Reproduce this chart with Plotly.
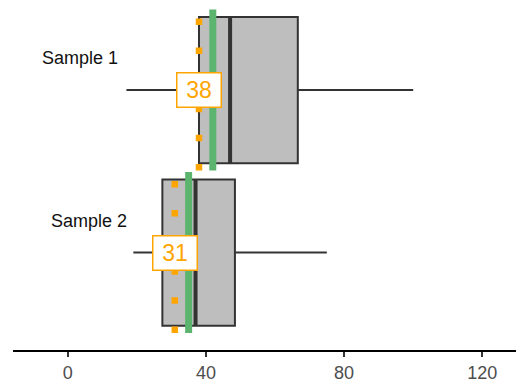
import plotly.graph_objects as go

# ---- data ----
samples = ["Sample 1", "Sample 2"]
positions = [1, 0]
lower_whisker = [17, 19]
q1 = [38, 27.4]
median = [47, 37]
q3 = [66.6, 48.4]
upper_whisker = [100, 75]
mean_vals = [42, 35]          # green line
ref_vals = [38, 31]           # orange dotted line + label
tick_vals = [0, 40, 80, 120]

FONT = "Liberation Sans, Arial, sans-serif"
ORANGE = "#FFA500"
GREEN = "#5CB46E"
DARK = "#333333"

fig = go.Figure()

fig.add_trace(go.Box(
    y=positions, q1=q1, median=median, q3=q3,
    lowerfence=lower_whisker, upperfence=upper_whisker,
    orientation="h", width=0.9, whiskerwidth=0,
    fillcolor="#BEBEBE", line=dict(color=DARK, width=2),
    boxpoints=False, hoverinfo="skip", showlegend=False,
))

half_box = 0.45
half_line = 0.495
for p, m, r, g in zip(positions, median, ref_vals, mean_vals):
    fig.add_trace(go.Scatter(
        x=[m, m], y=[p - half_box, p + half_box], mode="lines",
        line=dict(color=DARK, width=4), hoverinfo="skip", showlegend=False))
    fig.add_trace(go.Scatter(
        x=[r, r], y=[p - half_line, p + half_line], mode="lines",
        line=dict(color=ORANGE, width=6.5, dash="6.5px,22.6px"),
        hoverinfo="skip", showlegend=False))
    fig.add_trace(go.Scatter(
        x=[g, g], y=[p - half_line, p + half_line], mode="lines",
        line=dict(color=GREEN, width=7), hoverinfo="skip", showlegend=False))

# value labels
for p, r in zip(positions, ref_vals):
    fig.add_annotation(
        x=r, y=p, xref="x", yref="y", text=str(r), showarrow=False,
        font=dict(family=FONT, size=23, color=ORANGE),
        bgcolor="white", bordercolor=ORANGE, borderwidth=1.5, borderpad=1,
        width=41, height=31, xanchor="center", yanchor="middle")

# category labels
label_x = [3.6, 6.05]
label_dy = 0.197
for s, p, lx in zip(samples, positions, label_x):
    fig.add_annotation(
        x=lx, y=p + label_dy, xref="x", yref="y", text=s, showarrow=False,
        font=dict(family=FONT, size=18, color="#111111"),
        xanchor="center", yanchor="middle")

fig.update_layout(
    width=516, height=383,
    margin=dict(l=13, r=0, t=0, b=33),
    paper_bgcolor="white", plot_bgcolor="white",
    font=dict(family=FONT),
    xaxis=dict(
        range=[-15.83, 129.75], tickvals=tick_vals, showgrid=False,
        zeroline=False, showline=True, linecolor="black", linewidth=2,
        ticks="outside", ticklen=5, tickwidth=1.5, tickcolor=DARK,
        tickfont=dict(family=FONT, size=18, color="#4D4D4D"),
    ),
    yaxis=dict(range=[-0.6, 1.554], visible=False, showgrid=False, zeroline=False),
)

fig.write_html("out.html")
